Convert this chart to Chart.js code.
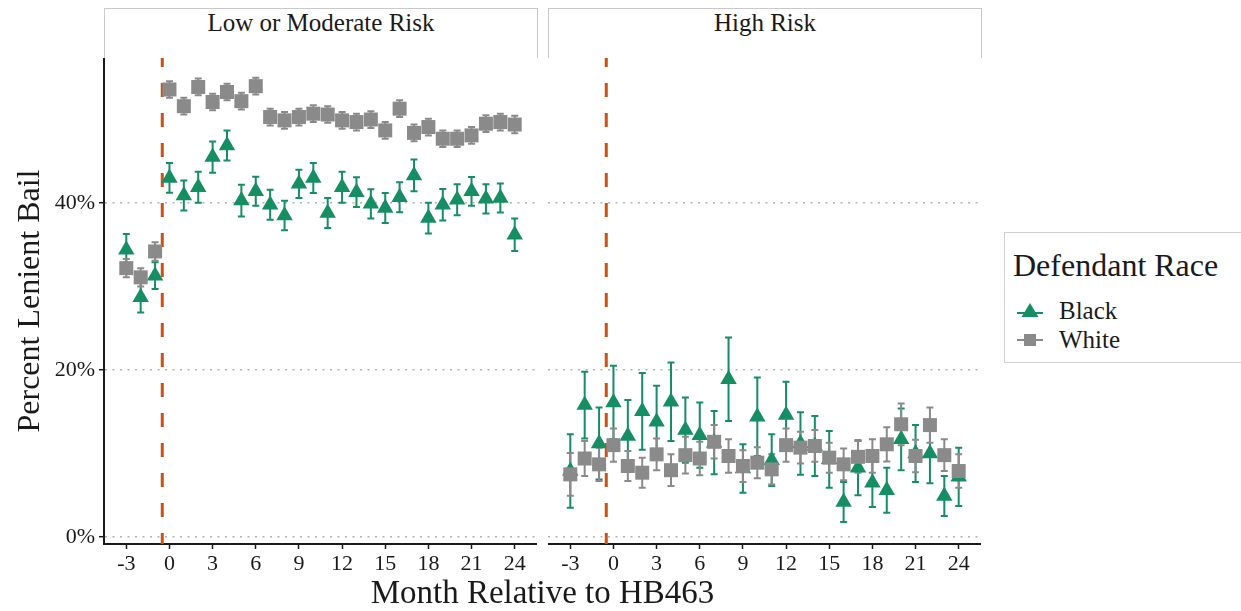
<!DOCTYPE html>
<html>
<head>
<meta charset="utf-8">
<script src="https://cdn.jsdelivr.net/npm/chart.js@4.4.0/dist/chart.umd.min.js"></script>
<style>
  body { margin: 0; background: #fff; width: 1241px; height: 611px; position: relative; overflow: hidden;
         font-family: "Liberation Serif", "Times New Roman", serif; color: #1a1a1a; }
  .strip { position: absolute; top: 8px; height: 50px; box-sizing: border-box; border: 1px solid #c9c9c9;
           border-bottom: none; text-align: center; font-size: 25px; line-height: 27px; }
  .panel { position: absolute; top: 58px; }
  #xtitle { position: absolute; left: 104px; width: 877px; top: 572px; text-align: center;
            font-size: 33px; line-height: 40px; }
  #legend { position: absolute; left: 1004px; top: 232px; width: 260px; height: 131px; box-sizing: border-box;
            border: 1px solid #d0d0d0; }
  #legend .ttl { position: absolute; left: 8px; top: 14px; font-size: 32px; line-height: 36px; white-space: nowrap; }
  #legend .item { position: absolute; left: 8px; height: 28px; font-size: 25px; line-height: 28px; white-space: nowrap; }
  #legend svg { position: absolute; left: 0; top: 0; }
  #legend .item span { position: absolute; left: 46px; top: 0; }
</style>
</head>
<body>
<div class="strip" style="left:104px; width:434px;">Low or Moderate Risk</div>
<div class="strip" style="left:548px; width:434px;">High Risk</div>
<div class="panel" style="left:0px;"><canvas id="lowRisk" width="537" height="553"></canvas></div>
<div class="panel" style="left:548px;"><canvas id="highRisk" width="433" height="553"></canvas></div>
<div id="xtitle">Month Relative to HB463</div>
<div id="legend">
  <div class="ttl">Defendant Race</div>
  <div class="item" style="top:64px;">
    <svg width="36" height="28"><line x1="4" y1="16" x2="30" y2="16" stroke="#168e64" stroke-width="2"/>
      <polygon points="17,6 25.5,20 8.5,20" fill="#168e64"/></svg>
    <span>Black</span>
  </div>
  <div class="item" style="top:93px;">
    <svg width="36" height="28"><line x1="4" y1="14" x2="30" y2="14" stroke="#8a8a8a" stroke-width="2"/>
      <rect x="11" y="8" width="12" height="12" fill="#8a8a8a"/></svg>
    <span>White</span>
  </div>
</div>
<script>
// months relative to the law change, same for both panels
const months = [-3, -2, -1, 0, 1, 2, 3, 4, 5, 6, 7, 8, 9, 10, 11, 12, 13, 14, 15, 16, 17, 18, 19, 20, 21, 22, 23, 24];
const xTicks = [-3, 0, 3, 6, 9, 12, 15, 18, 21, 24];
const yTicks = [0, 20, 40];
const policyMonth = -0.5;

// Low or moderate risk defendants (percent lenient bail, +/- error)
const lowBlack = [34.4, 28.7, 31.3, 43.0, 40.9, 41.9, 45.5, 46.9, 40.3, 41.4, 39.8, 38.5, 42.3, 43.0,
                  38.8, 41.9, 41.3, 39.9, 39.4, 40.7, 43.3, 38.2, 39.8, 40.4, 41.4, 40.5, 40.6, 36.2];
const lowBlackErr = [1.9, 1.8, 1.6, 1.78, 1.8, 1.86, 1.86, 1.8, 1.9, 1.74, 1.8, 1.76, 1.7, 1.8,
                     1.8, 1.86, 1.78, 1.74, 1.8, 1.8, 1.9, 1.84, 1.88, 1.86, 1.72, 1.76, 1.74, 1.96];
const lowWhite = [32.2, 31.1, 34.2, 53.6, 51.6, 53.9, 52.1, 53.3, 52.2, 54.0, 50.3, 49.9, 50.3, 50.7,
                  50.6, 49.9, 49.7, 50.0, 48.7, 51.3, 48.4, 49.1, 47.7, 47.7, 48.1, 49.5, 49.7, 49.4];
const lowWhiteErr = [1.1, 1.1, 1.1, 1.0, 1.0, 1.0, 1.0, 1.0, 1.0, 1.0, 1.0, 1.0, 1.0, 1.0,
                     1.0, 1.0, 1.0, 1.0, 1.0, 1.0, 1.0, 1.0, 1.0, 1.0, 1.0, 1.0, 1.0, 1.05];

// High risk defendants
const highBlack = [7.9, 15.8, 11.2, 16.1, 12.1, 15.05, 13.8, 16.2, 12.8, 12.2, 11.3, 18.9, 8.2, 14.4,
                   9.2, 14.6, 11.2, 10.9, 9.3, 4.2, 8.3, 6.5, 5.6, 11.7, 10.0, 10.0, 4.9, 7.2];
const highBlackErr = [4.4, 4.0, 4.3, 4.4, 4.3, 4.6, 4.3, 4.7, 3.9, 3.9, 3.8, 5.0, 2.9, 4.7,
                      3.1, 4.0, 3.75, 3.6, 3.4, 2.4, 3.3, 2.9, 2.7, 3.7, 3.4, 3.55, 2.4, 3.5];
const highWhite = [7.5, 9.4, 8.7, 11.0, 8.5, 7.7, 9.9, 8.0, 9.8, 9.4, 11.4, 9.7, 8.5, 8.9,
                   8.1, 11.0, 10.7, 10.9, 9.5, 8.7, 9.6, 9.7, 11.1, 13.5, 9.7, 13.4, 9.8, 7.9];
const highWhiteErr = [2.55, 2.1, 2.0, 2.0, 1.8, 1.8, 1.9, 1.9, 2.2, 2.0, 2.0, 2.0, 1.9, 1.85,
                      1.8, 2.0, 1.9, 1.9, 1.8, 1.9, 1.9, 2.0, 2.05, 2.5, 1.95, 2.1, 1.9, 2.0];

const GREEN = '#168e64';
const GREY = '#8a8a8a';
const ORANGE = '#cc5214';
const INK = '#1a1a1a';

Chart.defaults.font.family = '"Liberation Serif", "Times New Roman", serif';
Chart.defaults.color = INK;

// vertical policy line + error bars, drawn under the points
const errorBars = {
  id: 'errorBars',
  beforeDatasetsDraw(chart) {
    const { ctx, chartArea, scales: { x, y } } = chart;
    ctx.save();
    ctx.beginPath();
    ctx.rect(chartArea.left, chartArea.top, chartArea.width, chartArea.height);
    ctx.clip();

    const vx = x.getPixelForValue(policyMonth);
    ctx.beginPath();
    ctx.setLineDash([14, 16]);
    ctx.lineDashOffset = 3;
    ctx.strokeStyle = ORANGE;
    ctx.lineWidth = 3;
    ctx.moveTo(vx, chartArea.bottom);
    ctx.lineTo(vx, chartArea.top);
    ctx.stroke();
    ctx.setLineDash([]);

    // black first, white on top
    [...chart.data.datasets].reverse().forEach(ds => {
      ctx.strokeStyle = ds.backgroundColor;
      ctx.lineWidth = 2;
      ds.data.forEach((p, i) => {
        const px = x.getPixelForValue(p.x);
        const top = y.getPixelForValue(p.y + ds.err[i]);
        const bot = y.getPixelForValue(p.y - ds.err[i]);
        ctx.beginPath();
        ctx.moveTo(px, top); ctx.lineTo(px, bot);
        ctx.moveTo(px - 3.5, top); ctx.lineTo(px + 3.5, top);
        ctx.moveTo(px - 3.5, bot); ctx.lineTo(px + 3.5, bot);
        ctx.stroke();
      });
    });
    ctx.restore();
  }
};

function toPoints(vals) {
  return vals.map((v, i) => ({ x: months[i], y: v }));
}

function makePanel(id, black, blackErr, white, whiteErr, withYAxis) {
  return new Chart(document.getElementById(id), {
    type: 'scatter',
    data: {
      datasets: [
        { label: 'White', data: toPoints(white), err: whiteErr, order: 0,
          pointStyle: 'rect', pointRadius: 9.9, pointBorderWidth: 0,
          backgroundColor: GREY, borderColor: GREY },
        { label: 'Black', data: toPoints(black), err: blackErr, order: 1,
          pointStyle: 'triangle', pointRadius: 9.5, pointBorderWidth: 0,
          backgroundColor: GREEN, borderColor: GREEN }
      ]
    },
    options: {
      responsive: false,
      animation: false,
      events: [],
      layout: { padding: 0, autoPadding: false },
      plugins: { legend: { display: false }, tooltip: { enabled: false } },
      scales: {
        x: {
          type: 'linear', min: -4.55, max: 25.55,
          afterBuildTicks: s => { s.ticks = xTicks.map(v => ({ value: v })); },
          afterFit: s => { s.height = 67; s.paddingLeft = 0; s.paddingRight = 0; },
          ticks: { font: { size: 22 }, color: INK, padding: 2, maxRotation: 0 },
          grid: { drawOnChartArea: false, drawTicks: true, tickLength: 5, tickColor: INK, tickWidth: 1.5 },
          border: { color: INK, width: 2 }
        },
        y: {
          type: 'linear', min: -0.84, max: 57.37,
          afterBuildTicks: s => { s.ticks = yTicks.map(v => ({ value: v })); },
          afterFit: s => { s.width = withYAxis ? 104 : 0; s.paddingTop = 0; s.paddingBottom = 0; },
          ticks: { display: withYAxis, font: { size: 22 }, color: INK, padding: 4, callback: v => v + '%' },
          grid: { color: '#b3b3b3', lineWidth: 1.4, drawTicks: withYAxis, tickLength: 5, tickColor: INK, tickWidth: 1.5 },
          border: { display: withYAxis, color: INK, width: 2, dash: [2, 5.5] },
          title: { display: withYAxis, text: 'Percent Lenient Bail', font: { size: 32 }, color: INK,
                   padding: { top: 11, bottom: 0 } }
        }
      }
    },
    plugins: [errorBars]
  });
}

makePanel('lowRisk', lowBlack, lowBlackErr, lowWhite, lowWhiteErr, true);
makePanel('highRisk', highBlack, highBlackErr, highWhite, highWhiteErr, false);
</script>
</body>
</html>
